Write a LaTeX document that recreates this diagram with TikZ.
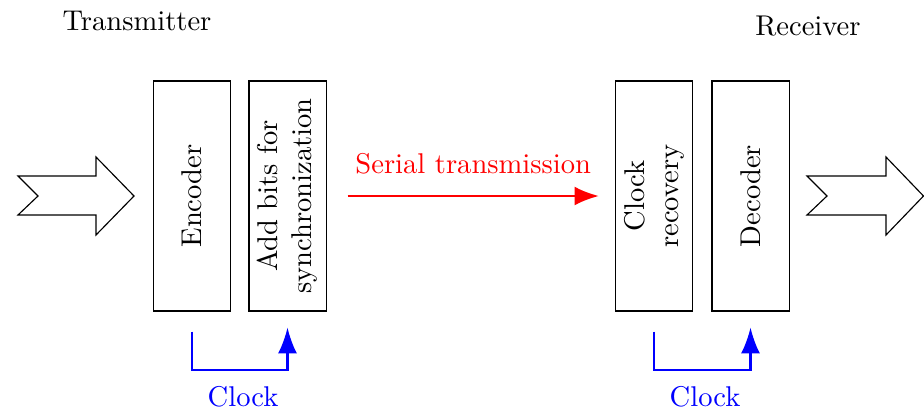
\documentclass[tikz,border=0pt]{standalone}
\usetikzlibrary{calc,arrows.meta}

\begin{document}
\begin{tikzpicture}[x=0.35pt, y=-0.35pt,
  block/.style={draw, rotate=90, minimum width=80.5pt, minimum height=27pt,
                inner sep=1pt, align=center},
  flowarrow/.style={draw, line join=miter, fill=white},
  serial/.style={red, line width=0.8pt, -{Latex[length=8.5pt,width=6.6pt]}},
  clk/.style={blue, line width=0.75pt, -{Latex[length=9pt,width=6.6pt]}},
  title/.style={anchor=base}
]
\useasboundingbox (0,0) rectangle (924,409);

% section titles
\node[title] (tx) at (137,30) {Transmitter};
\node[title] (rx) at (808,35) {Receiver};

% processing blocks
\node[block] (enc) at (192,196) {Encoder};
\node[block] (add) at (287.5,196) {Add bits for\\synchronization};
\node[block] (rec) at (654,196) {Clock\\recovery};
\node[block] (dec) at (750.5,196) {Decoder};

% input and output data arrows
\draw[flowarrow] (18,176) -- (96,176) -- (96,157) -- (134,196) -- (96,235)
  -- (96,215) -- (18,215) -- (38,196) -- cycle;
\draw[flowarrow] (807,176) -- (886,176) -- (886,157) -- (923.5,196) -- (886,235)
  -- (886,215) -- (807,215) -- (827,196) -- cycle;

% serial link
\draw[serial] ($(add.south)+(21,0)$) -- ($(rec.north)+(-16,0)$)
  node[midway, above=4pt, text=red] (sl) {Serial transmission};

% clock paths
\draw[clk] ($(enc.west)+(0,20)$) |- ($(add.west)+(0,58)$) -- ($(add.west)+(0,16)$);
\node[blue] (clk1) at (243,397) {Clock};
\draw[clk] ($(rec.west)+(0,20)$) |- ($(dec.west)+(0,58)$) -- ($(dec.west)+(0,16)$);
\node[blue] (clk2) at (705,397) {Clock};
\end{tikzpicture}
\end{document}
